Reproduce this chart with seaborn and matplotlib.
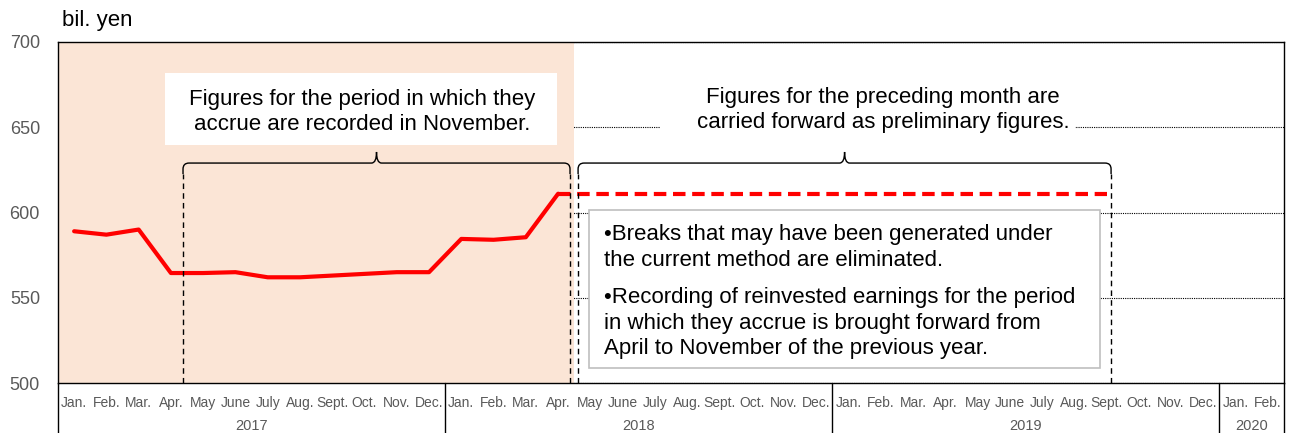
import matplotlib
matplotlib.use("Agg")
import matplotlib.pyplot as plt
from matplotlib.path import Path
from matplotlib.patches import PathPatch, Rectangle
import pandas as pd
import seaborn as sns

# ---------------- data ----------------
month_labels = ["Jan.", "Feb.", "Mar.", "Apr.", "May", "June", "July", "Aug.",
                "Sept.", "Oct.", "Nov.", "Dec."]
years = ["2017", "2018", "2019", "2020"]
months_per_year = [12, 12, 12, 2]
# Jan 2017 .. Apr 2018 (recorded under current method)
recorded_values = [589, 587, 590, 564.5, 564.5, 565, 562, 562, 563, 564, 565, 565,
                   584.5, 584, 585.5, 611]
# Apr 2018 .. Sept 2019 (preliminary, carried forward)
preliminary_values = [611, 611, 611, 611, 611, 611, 611, 611, 611,
                      611, 611, 611, 611, 611, 611, 611, 611, 611]
preliminary_start = 15  # index of Apr 2018
y_ticks = [500, 550, 600, 650, 700]
y_unit = "bil. yen"
note_left = "Figures for the period in which they\naccrue are recorded in November."
note_right = "Figures for the preceding month are\ncarried forward as preliminary figures."
bullet_1 = "\u2022Breaks that may have been generated under\nthe current method are eliminated."
bullet_2 = ("\u2022Recording of reinvested earnings for the period\n"
            "in which they accrue is brought forward from\n"
            "April to November of the previous year.")

# ---------------- style ----------------
sns.set_style("white")
plt.rcParams["font.family"] = ["Liberation Sans", "DejaVu Sans"]
plt.rcParams["text.color"] = "black"

tick_labels = []
for y, n in zip(years, months_per_year):
    tick_labels += month_labels[:n]
n_total = len(tick_labels)

df_rec = pd.DataFrame({"x": [i + 0.5 for i in range(len(recorded_values))],
                       "v": recorded_values})
df_pre = pd.DataFrame({"x": [preliminary_start + i + 0.5 for i in range(len(preliminary_values))],
                       "v": preliminary_values})

fig = plt.figure(figsize=(12.9, 4.33), dpi=100)
ax = fig.add_axes([58 / 1290, 50 / 433, 1226 / 1290, 341 / 433])
ax.set_xlim(0, n_total)
ax.set_ylim(y_ticks[0], y_ticks[-1])

# shaded period (Jan 2017 - Apr 2018)
ax.axvspan(0, len(recorded_values), color="#FBE5D6", lw=0, zorder=1)

# grid
ax.set_yticks(y_ticks)
ax.grid(axis="y", color="black", linestyle=(0, (1, 1)), linewidth=0.8)
ax.grid(axis="x", visible=False)
ax.set_axisbelow(True)

# lines
sns.lineplot(data=df_rec, x="x", y="v", color="#FF0000", lw=3.0, ax=ax, zorder=5)
sns.lineplot(data=df_pre, x="x", y="v", color="#FF0000", lw=3.0, ax=ax, zorder=5,
             linestyle=(0, (3.0, 1.6)))

# spines
for s in ["left", "right", "bottom"]:
    ax.spines[s].set_color("black")
    ax.spines[s].set_linewidth(1.0)
ax.spines["top"].set_color("black")
ax.spines["top"].set_linewidth(1.0)
ax.spines["top"].set_linestyle((0, (1, 1)))

# ticks
ax.set_xticks([i + 0.5 for i in range(n_total)])
ax.set_xticklabels(tick_labels)
ax.tick_params(axis="x", length=0, pad=17, labelsize=10, labelcolor="#595959")
for t in ax.get_xticklabels():
    t.set_verticalalignment("baseline")
ax.tick_params(axis="y", length=0, pad=13, labelsize=13, labelcolor="#595959")
ax.set_xlabel("")
ax.set_ylabel("")

# year labels and separators
start = 0
for y, n in zip(years, months_per_year):
    ax.text(start + n / 2, -0.1375, y, transform=ax.get_xaxis_transform(),
            ha="center", va="baseline", fontsize=10.5, color="#595959")
    start += n
bounds = [0]
for n in months_per_year:
    bounds.append(bounds[-1] + n)
for b in bounds:
    ax.plot([b, b], [0, -0.3], transform=ax.get_xaxis_transform(), color="black",
            lw=1.0, clip_on=False, zorder=6)

ax.text(0.003, 1.064, y_unit, transform=ax.transAxes, ha="left", va="center",
        fontsize=16, color="black")

# braces
px_x = 1226 / n_total
px_y = 341 / 200.0


def brace(x0, x1, y_top, y_tip, y_low):
    rx = 6 / px_x
    ry = 6 / px_y
    rc = 5 / px_x
    xc = (x0 + x1) / 2
    verts = [(x0, y_low), (x0, y_top - ry), (x0, y_top), (x0 + rx, y_top),
             (xc - rc, y_top), (xc, y_top), (xc, y_tip),
             (xc, y_top), (xc + rc, y_top),
             (x1 - rx, y_top), (x1, y_top), (x1, y_top - ry), (x1, y_low)]
    codes = [Path.MOVETO, Path.LINETO, Path.CURVE3, Path.CURVE3,
             Path.LINETO, Path.CURVE3, Path.CURVE3,
             Path.CURVE3, Path.CURVE3,
             Path.LINETO, Path.CURVE3, Path.CURVE3, Path.LINETO]
    ax.add_patch(PathPatch(Path(verts, codes), fill=False, edgecolor="black",
                           lw=1.0, zorder=7))
    for xx in (x0, x1):
        ax.plot([xx, xx], [y_ticks[0], y_low], color="black", lw=1.0,
                linestyle=(0, (4, 3)), zorder=7, clip_on=False)


brace(3.875, 15.87, 629.0, 635.5, 622.5)
brace(16.12, 32.64, 629.0, 635.5, 622.5)

# text boxes
ax.add_patch(Rectangle((3.32, 639.5), 15.47 - 3.32, 682 - 639.5,
                       facecolor="white", edgecolor="none", zorder=3))
ax.add_patch(Rectangle((18.66, 640), 31.52 - 18.66, 682 - 640,
                       facecolor="white", edgecolor="none", zorder=3))
ax.add_patch(Rectangle((16.46, 508.8), 32.3 - 16.46, 601.5 - 508.8,
                       facecolor="white", edgecolor="#BFBFBF", lw=1.2, zorder=3))

ax.text(9.42, 659.0, note_left, ha="center", va="center", fontsize=16,
        linespacing=1.28, zorder=8, color="black")
ax.text(25.57, 660.0, note_right, ha="center", va="center", fontsize=16,
        linespacing=1.28, zorder=8, color="black")
ax.text(16.93, 579.5, bullet_1, ha="left", va="center", fontsize=16,
        linespacing=1.28, zorder=8, color="black")
ax.text(16.93, 535.0, bullet_2, ha="left", va="center", fontsize=16,
        linespacing=1.28, zorder=8, color="black")

fig.savefig("out.png", dpi=100)
